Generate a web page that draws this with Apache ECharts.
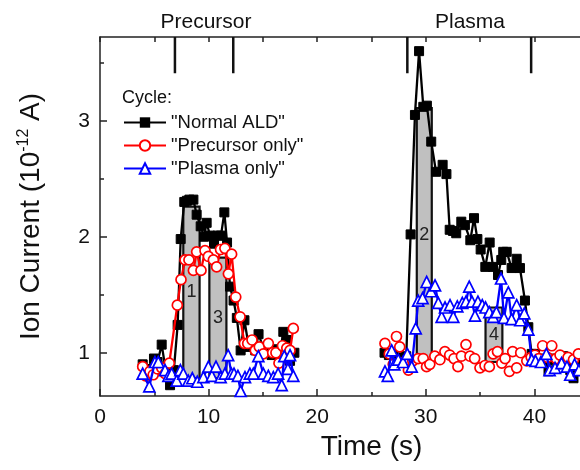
<!DOCTYPE html>
<html>
<head>
<meta charset="utf-8">
<script src="https://cdn.jsdelivr.net/npm/echarts@6/dist/echarts.min.js"></script>
<style>html,body{margin:0;padding:0;background:#fff}#c{width:580px;height:470px}</style>
</head>
<body>
<div id="c"></div>
<script>
// ---------- data ----------
const seriesNames = ['"Normal ALD"', '"Precursor only"', '"Plasma only"'];
// Normal ALD, precursor pulse window
const aldPrecX = [3.93,4.3,4.97,5.3,5.68,6.0,6.45,6.8,7.15,7.43,7.76,8.0,8.23,8.6,8.9,9.27,9.58,9.82,10.13,10.5,10.83,11.14,11.45,11.7,11.97,12.3,12.6,12.95,13.3,13.7,14.0,14.3,14.6,15.0,15.4,15.8,16.2,16.5,16.88,17.18,17.5,17.9];
const aldPrecY = [0.90,0.86,0.95,0.92,1.07,0.88,0.72,0.85,1.24,1.98,2.30,2.31,2.32,2.32,2.19,2.09,2.00,2.12,2.01,1.94,2.01,2.01,2.21,1.95,1.57,1.45,1.30,1.02,1.28,1.05,1.08,1.02,1.16,1.05,1.00,0.98,1.03,0.95,1.18,1.11,0.93,1.00];
// Normal ALD, plasma window
const aldPlasX = [26.2,26.6,27.0,27.4,27.8,28.2,28.6,29.0,29.38,29.77,30.1,30.5,30.94,31.55,31.9,32.2,32.5,32.8,33.27,33.6,34.1,34.44,34.75,35.05,35.48,35.88,36.19,36.65,36.95,37.13,37.45,37.9,38.37,38.67,39.13,39.44,39.75,40.06,40.4,40.8,41.3,41.7,42.1,42.66,43.0,43.3,43.6,44.0,44.4];
const aldPlasY = [1.00,0.98,0.99,0.93,0.96,0.97,2.02,3.05,3.60,3.12,3.13,2.82,2.56,2.62,2.54,2.06,2.05,2.03,2.13,2.10,1.97,2.16,1.98,1.89,1.74,1.95,1.74,1.67,1.80,1.87,1.87,1.73,1.81,1.73,1.45,1.22,0.99,0.99,0.95,0.92,0.84,0.95,0.90,0.97,0.92,0.85,0.78,0.88,0.90];
// Precursor only
const precPrecX = [3.93,4.2,4.6,4.9,5.3,5.68,6.0,6.38,7.12,7.46,7.83,8.19,8.6,8.9,9.3,9.67,9.98,10.44,10.74,11.1,11.5,11.82,12.12,12.5,12.9,13.3,13.6,14.0,14.3,14.67,15.04,15.5,15.9,16.2,16.48,16.8,17.2,17.5,17.8];
const precPrecY = [0.88,0.80,0.84,0.81,0.86,0.87,0.82,0.91,1.41,1.63,1.80,1.80,1.71,1.87,1.71,1.88,1.83,1.80,1.74,1.89,1.90,1.68,1.85,1.48,1.31,1.08,1.08,1.11,1.02,1.05,0.99,1.08,1.00,1.00,0.91,1.06,1.04,1.02,1.21];
const precPlasX = [26.24,26.64,27.0,27.3,27.6,28.0,28.4,28.8,29.3,29.76,30.07,30.37,30.83,31.3,31.76,32.2,32.6,32.96,33.28,33.7,34.07,34.5,34.99,35.45,35.85,36.2,36.6,37.0,37.3,37.7,38.0,38.37,38.74,39.3,39.7,40.05,40.4,40.76,41.2,41.6,42.0,42.36,42.67,43.1,43.6,44.05];
const precPlasY = [1.08,0.99,0.90,1.14,1.05,0.92,0.85,0.93,0.95,0.95,0.88,0.90,0.97,0.94,1.01,0.98,0.95,0.88,0.97,1.07,0.97,0.95,0.87,0.89,0.88,0.99,1.01,0.91,0.95,0.84,1.01,0.87,1.00,0.93,0.96,0.98,0.95,1.06,0.96,1.06,0.95,0.98,0.91,0.96,0.94,0.99];
// Plasma only
const plasPrecX = [3.93,4.54,5.06,5.37,5.99,6.3,6.6,7.06,7.4,7.67,8.13,8.5,8.96,9.52,9.98,10.3,10.68,11.11,11.5,11.8,12.1,12.34,12.7,12.95,13.35,13.8,14.12,14.58,15.04,15.5,15.96,16.4,16.73,16.97,17.3,17.5,17.8];
const plasPrecY = [0.82,0.71,0.92,0.92,0.85,0.80,0.82,0.76,0.85,0.82,0.76,0.78,0.75,0.79,0.88,0.80,0.88,0.79,0.82,0.98,0.82,0.82,0.80,0.67,0.79,0.82,0.82,0.97,0.82,0.80,0.79,0.82,0.72,0.97,0.86,0.98,0.80];
const plasPlasX = [26.24,26.5,26.86,27.1,27.47,27.9,28.3,28.7,29.07,29.3,29.7,30.08,30.48,30.85,31.15,31.46,31.77,32.23,32.53,32.9,33.36,33.7,34.0,34.25,34.53,34.8,35.2,35.5,35.85,36.2,36.5,36.93,37.2,37.6,37.9,38.37,38.7,39.07,39.44,39.75,40.1,40.6,41.1,41.4,41.9,42.5,43.0,43.3,43.7,44.1];
const plasPlasY = [0.84,0.80,1.02,0.90,0.94,0.92,0.99,0.88,1.21,1.45,1.47,1.61,1.53,1.58,1.43,1.31,1.39,1.41,1.31,1.40,1.43,1.44,1.57,1.44,1.32,1.44,1.41,1.39,1.35,1.31,1.35,1.64,1.30,1.52,1.29,1.41,1.28,1.34,1.20,0.94,0.93,0.92,0.99,0.85,0.87,0.91,0.88,0.81,0.90,0.85];
// shaded integration windows
const boxLabels = ['1','3','2','4'];
const boxX0 = [7.67,10.07,29.17,35.5];
const boxX1 = [9.17,11.64,30.55,37.05];
const boxY0 = [0.78,0.78,0.92,0.92];
const boxY1 = [2.26,1.82,3.11,1.39];
// pulse markers on top axis
const markerTimes = [6.9,12.27,28.3,39.7];
const markerBottom = 3.41;
// axes
const xMin = 0, xMax = 50;
const yMin = 0.627, yMax = 3.722;
const yTickValues = [1,2,3];
const yMinorTickValues = [1.5,2.5,3.5];
const phaseLabels = ['Precursor','Plasma'];

// ---------- build ----------
const FONT = 'Liberation Sans, Arial, sans-serif';
function zip(xs, ys){ return xs.map((x,i)=>[x, ys[i]]); }
function joinSeg(a, b){ return a.concat([[ (a[a.length-1][0]+b[0][0])/2, null ]], b); }
const aldData = joinSeg(zip(aldPrecX, aldPrecY), zip(aldPlasX, aldPlasY));
const plasData = joinSeg(zip(plasPrecX, plasPrecY), zip(plasPlasX, plasPlasY));
const precData = zip(precPrecX, precPrecY);
const precPlasData = zip(precPlasX, precPlasY);
const boxData = boxLabels.map((l,i)=>[boxX0[i], boxX1[i], boxY0[i], boxY1[i]]);
const markerData = [];
markerTimes.forEach(t=>{ markerData.push([t, yMax],[t, markerBottom],[t, null]); });

const chart = echarts.init(document.getElementById('c'), null, {renderer:'canvas'});
const option = {
  animation: false,
  backgroundColor: '#fff',
  textStyle: { fontFamily: FONT },
  grid: { left: 100, top: 37, width: 543, height: 359, containLabel: false, outerBoundsMode: 'none' },
  legend: {
    data: seriesNames,
    orient: 'vertical',
    left: 118, top: 108,
    itemWidth: 42, itemHeight: 13, itemGap: 4,
    textStyle: { fontFamily: FONT, fontSize: 18.5, color: '#111', lineHeight: 18.5 },
    selectedMode: false
  },
  graphic: [
    { type:'text', x:122, y:98, style:{ text:'Cycle:', font:'18px '+FONT, fill:'#111', verticalAlign:'middle', align:'left' } },
    { type:'text', x:206, y:22, style:{ text:phaseLabels[0], font:'21px '+FONT, fill:'#111', verticalAlign:'middle', align:'center' } },
    { type:'text', x:470, y:22, style:{ text:phaseLabels[1], font:'21px '+FONT, fill:'#111', verticalAlign:'middle', align:'center' } }
  ],
  xAxis: [
    { type:'value', min:xMin, max:xMax, interval:10, position:'bottom',
      name:'Time (s)', nameLocation:'middle', nameGap:34,
      nameTextStyle:{ fontFamily:FONT, fontSize:28, color:'#111' },
      axisLine:{ lineStyle:{ color:'#222', width:1.5 } },
      axisTick:{ inside:true, length:7, lineStyle:{ color:'#222', width:1.5 } },
      minorTick:{ show:true, splitNumber:2, length:4, lineStyle:{ color:'#222', width:1.5 } },
      axisLabel:{ fontFamily:FONT, fontSize:21, color:'#111', margin:11 },
      splitLine:{ show:false } },
    { type:'value', min:xMin, max:xMax, interval:5, position:'top',
      axisLine:{ show:true, lineStyle:{ color:'#222', width:1.5 } },
      axisTick:{ show:true, inside:true, length:5, lineStyle:{ color:'#222', width:1.5 } },
      axisLabel:{ show:false }, splitLine:{ show:false } }
  ],
  yAxis: [
    { type:'value', min:yMin, max:yMax, position:'left',
      name:'Ion Current (10{sup|-12} A)', nameLocation:'middle', nameGap:54,
      nameTextStyle:{ fontFamily:FONT, fontSize:28, color:'#111',
        rich:{ sup:{ fontFamily:FONT, fontSize:16, color:'#111', verticalAlign:'top', padding:[0,0,14,0] } } },
      axisLine:{ show:true, lineStyle:{ color:'#222', width:1.5 } },
      axisTick:{ show:true, inside:true, length:7, customValues:yTickValues, lineStyle:{ color:'#222', width:1.5 } },
      axisLabel:{ fontFamily:FONT, fontSize:21, color:'#111', margin:10, customValues:yTickValues },
      splitLine:{ show:false } },
    { type:'value', min:yMin, max:yMax, position:'left',
      axisLine:{ show:false },
      axisTick:{ show:true, inside:true, length:4, customValues:yMinorTickValues, lineStyle:{ color:'#222', width:1.5 } },
      axisLabel:{ show:false, customValues:yMinorTickValues }, splitLine:{ show:false } }
  ],
  series: [
    { type:'custom', name:'boxes', data:boxData, z:1, clip:false,
      renderItem:function(params, api){
        const tl = api.coord([api.value(0), api.value(3)]);
        const br = api.coord([api.value(1), api.value(2)]);
        return { type:'group', children:[
          { type:'rect', shape:{ x:tl[0], y:tl[1], width:br[0]-tl[0], height:br[1]-tl[1] },
            style:{ fill:'#c0c0c0', stroke:'#111', lineWidth:2.2 } },
          { type:'text', style:{ text:boxLabels[params.dataIndex], x:(tl[0]+br[0])/2, y:(tl[1]+br[1])/2,
            align:'center', verticalAlign:'middle', font:'18px '+FONT, fill:'#222' } }
        ]};
      } },
    { type:'line', name:'markers', data:markerData, symbol:'none', connectNulls:false, z:2,
      lineStyle:{ color:'#111', width:2.5 }, clip:false },
    { type:'line', name:seriesNames[0], data:aldData, z:3, connectNulls:false,
      symbol:'rect', symbolSize:9,
      itemStyle:{ color:'#000', borderColor:'#000' },
      lineStyle:{ color:'#000', width:2.3 } },
    { type:'line', name:'precPlasmaScatter', data:precPlasData, z:4,
      symbol:'circle', symbolSize:10,
      itemStyle:{ color:'#fff', borderColor:'#ff0000', borderWidth:1.7 },
      lineStyle:{ width:0, opacity:0 } },
    { type:'line', name:seriesNames[1], data:precData, z:5,
      symbol:'circle', symbolSize:10,
      itemStyle:{ color:'#fff', borderColor:'#ff0000', borderWidth:1.7 },
      lineStyle:{ color:'#ff0000', width:2.3 } },
    { type:'line', name:seriesNames[2], data:plasData, z:6, connectNulls:false,
      symbol:'triangle', symbolSize:11,
      itemStyle:{ color:'#fff', borderColor:'#0000ff', borderWidth:1.7 },
      lineStyle:{ color:'#0000ff', width:2.3 } }
  ]
};
chart.setOption(option);
</script>
</body>
</html>
